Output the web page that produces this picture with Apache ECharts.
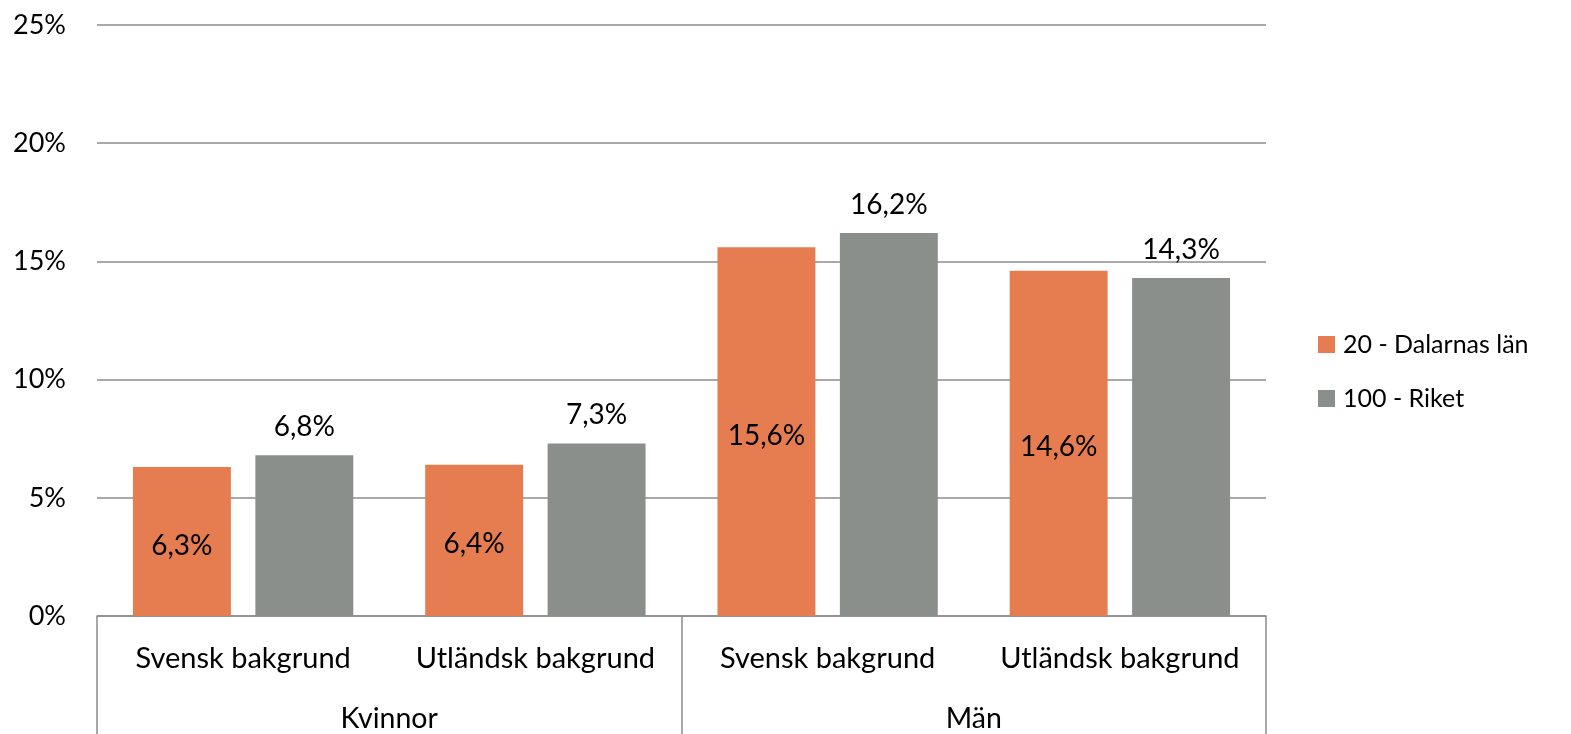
<!DOCTYPE html>
<html>
<head>
<meta charset="utf-8">
<script src="https://cdn.jsdelivr.net/npm/echarts@6/dist/echarts.min.js"></script>
<style>
  html, body { margin: 0; padding: 0; background: #fff; }
  #chart { width: 1571px; height: 734px; }
</style>
</head>
<body>
<div id="chart"></div>
<script>
// data
var subCategories = ['Svensk bakgrund', 'Utländsk bakgrund', 'Svensk bakgrund', 'Utländsk bakgrund'];
var groups = ['Kvinnor', 'Män'];
var seriesNames = ['20 - Dalarnas län', '100 - Riket'];
var dalarna = [6.3, 6.4, 15.6, 14.6];
var riket = [6.8, 7.3, 16.2, 14.3];
var yTicks = [0, 5, 10, 15, 20, 25];

var font = 'Lato, "Open Sans", sans-serif';
var lineCol = '#8c8c8c';

function pct(v) {
    return v.toFixed(1).replace('.', ',') + '%';
}

var myChart = echarts.init(document.getElementById('chart'));
var option = {
    backgroundColor: '#fff',
    animation: false,
    textStyle: { fontFamily: font },
    color: ['#E67D51', '#8A8F8C'],
    grid: { left: 97, right: 305, top: 25, bottom: 118, containLabel: false },
    legend: {
        orient: 'vertical',
        left: 1313,
        top: 327,
        itemWidth: 17,
        itemHeight: 17,
        itemGap: 29,
        icon: 'rect',
        data: seriesNames,
        textStyle: { fontSize: 25, color: '#000', fontFamily: font, padding: [0, 0, 0, 3] }
    },
    xAxis: [{
        type: 'category',
        data: subCategories,
        position: 'bottom',
        axisLine: { show: true, lineStyle: { color: lineCol, width: 1.5 } },
        axisTick: { show: false },
        axisLabel: { fontSize: 29, color: '#000', margin: 28, interval: 0, fontFamily: font }
    }, {
        type: 'category',
        data: groups,
        position: 'bottom',
        axisLine: { show: false },
        axisTick: { show: true, length: 120, interval: 0, lineStyle: { color: lineCol, width: 1.5 } },
        axisLabel: { fontSize: 28.5, color: '#000', margin: 88, interval: 0, fontFamily: font },
        splitLine: { show: false }
    }],
    yAxis: {
        type: 'value',
        min: yTicks[0],
        max: yTicks[yTicks.length - 1],
        interval: 5,
        axisLine: { show: false },
        axisTick: { show: false },
        axisLabel: { fontSize: 27, color: '#000', margin: 31, formatter: function(v) { return v + '%'; } },
        splitLine: { lineStyle: { color: lineCol, width: 1.5 } }
    },
    series: [{
        name: seriesNames[0],
        type: 'bar',
        xAxisIndex: 0,
        data: dalarna,
        barGap: '25%',
        barCategoryGap: '24.6%',
        label: {
            show: true,
            position: 'inside',
            offset: [0, 4],
            fontSize: 28,
            color: '#000',
            fontFamily: font,
            formatter: function(p) { return pct(p.value); }
        }
    }, {
        name: seriesNames[1],
        type: 'bar',
        xAxisIndex: 0,
        data: riket,
        barGap: '25%',
        barCategoryGap: '24.6%',
        label: {
            show: true,
            position: 'top',
            distance: 14,
            fontSize: 28,
            color: '#000',
            fontFamily: font,
            formatter: function(p) { return pct(p.value); }
        }
    }]
};
myChart.setOption(option);
</script>
</body>
</html>
